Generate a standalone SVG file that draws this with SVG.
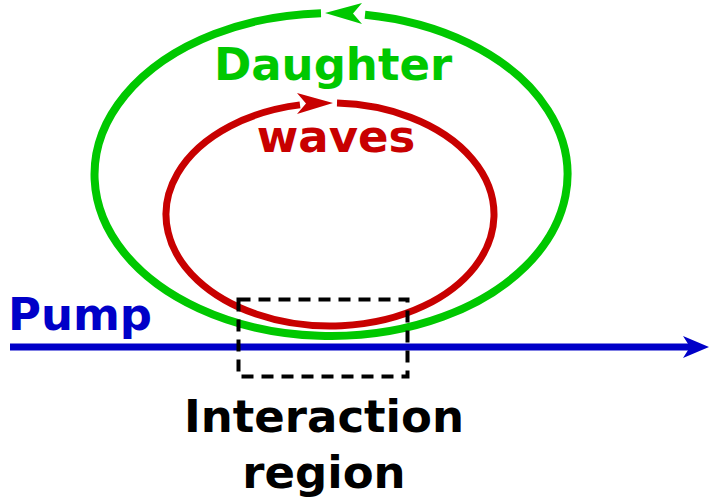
<svg xmlns="http://www.w3.org/2000/svg" width="709" height="503" viewBox="0 0 709 503">
<style>
.lbl{font-family:"DejaVu Sans",sans-serif;font-weight:bold;font-size:45px;text-anchor:middle}
</style>
<rect width="709" height="503" fill="#fff"/>
<g id="connectors">
<path id="pump-line" d="M10,347 H690" stroke="#0000c8" stroke-width="7" fill="none"/>
<path d="M709,347 L683,336 L690,347 L683,358 Z" fill="#0000c8"/>
</g>
<g id="green-loop">
<path d="M321,13.15 A236.5 161.5 0 1 0 365,14.68" stroke="#00c800" stroke-width="8" fill="none"/>
<path d="M325,13 L362,3 L353,13.5 L362,24 Z" fill="#00c800"/>
</g>
<g id="red-loop">
<path d="M337,103.1 A164 111.5 0 1 1 300,104.88" stroke="#c80000" stroke-width="7" fill="none"/>
<path d="M333,103 L297,93 L306,103.5 L297,114 Z" fill="#c80000"/>
</g>
<g id="interaction-box">
<rect x="238.5" y="299.5" width="169" height="77" fill="none" stroke="#000" stroke-width="4" stroke-dasharray="12,8"/>
</g>
<g id="labels">
<text class="lbl" x="333" y="80" fill="#00c800">Daughter</text>
<text class="lbl" x="336" y="152" fill="#c80000">waves</text>
<text class="lbl" x="80" y="330" fill="#0000c8">Pump</text>
<text class="lbl" x="324" y="432" fill="#000">Interaction</text>
<text class="lbl" x="324" y="488" fill="#000">region</text>
</g>
</svg>
